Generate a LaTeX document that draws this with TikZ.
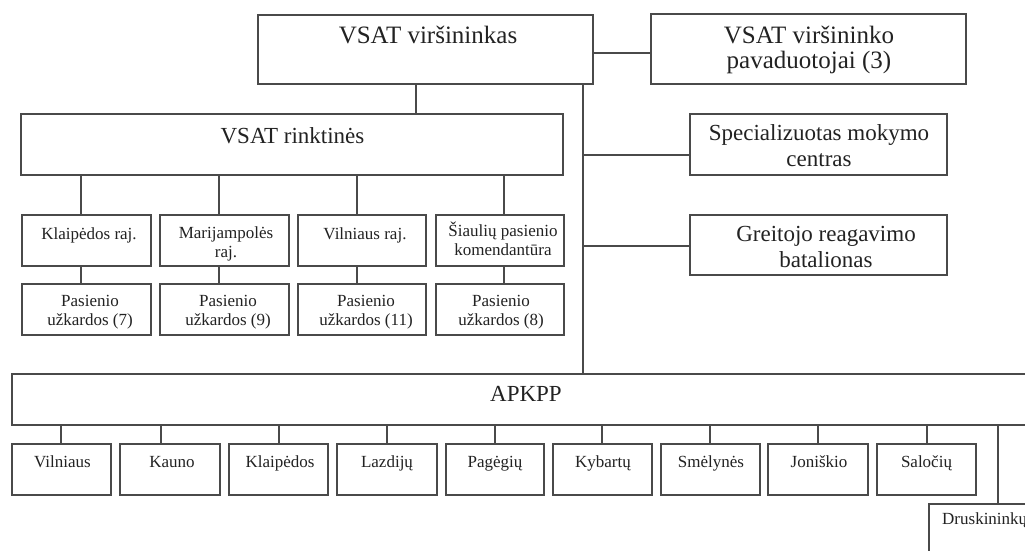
\documentclass[tikz,border=0pt]{standalone}
\usepackage{fontspec}
\setmainfont{Liberation Serif}
\definecolor{linec}{HTML}{4A4A4A}
\definecolor{txtc}{HTML}{222222}
\begin{document}
\begin{tikzpicture}[x=1pt,y=-1pt,
  bx/.style={draw=linec, line width=1.1pt, inner sep=0pt, fill=white},
  ln/.style={draw=linec, line width=1.1pt},
  hugetxt/.style={font=\fontsize{25}{25}\selectfont, text=txtc, align=center, inner sep=0pt, anchor=base},
  bigtxt/.style={font=\fontsize{23}{26}\selectfont, text=txtc, align=center, inner sep=0pt, anchor=base},
  smtxt/.style={font=\fontsize{17}{19}\selectfont, text=txtc, align=center, inner sep=0pt, anchor=base},
]
\useasboundingbox (0,0) rectangle (1025,550);
\clip (0,0) rectangle (1025,550);
\fill[white] (0,0) rectangle (1025,550);

% top level
\node[bx, minimum width=335pt, minimum height=69pt] (top) at (425.5,49.5) {};
\node[hugetxt] (topT) at (428,43) {VSAT viršininkas};
\node[bx, minimum width=315pt, minimum height=70pt] (dep) at (808.5,49) {};
\node[hugetxt] (depT) at (809,68) {VSAT viršininko\\pavaduotojai (3)};

\node[bx, minimum width=542pt, minimum height=61pt] (rink) at (292,144.5) {};
\node[bigtxt] (rinkT) at (292.5,143) {VSAT rinktinės};

\node[bx, minimum width=257pt, minimum height=61pt] (spec) at (818.5,144.5) {};
\node[bigtxt] (specT) at (819,166) {Specializuotas mokymo\\centras};

\node[bx, minimum width=257pt, minimum height=60pt] (greit) at (818.5,245) {};
\node[bigtxt] (greitT) at (826,267) {Greitojo reagavimo\\batalionas};

% rinktines row 1
\node[bx, minimum width=129pt, minimum height=51pt] (r1) at (86.5,240.5) {};
\node[bx, minimum width=129pt, minimum height=51pt] (r2) at (224.5,240.5) {};
\node[bx, minimum width=128pt, minimum height=51pt] (r3) at (362,240.5) {};
\node[bx, minimum width=128pt, minimum height=51pt] (r4) at (500,240.5) {};
\node[smtxt] (r1T) at (89,239) {Klaipėdos raj.};
\node[smtxt] (r2T) at (226,257) {Marijampolės\\raj.};
\node[smtxt] (r3T) at (365,239) {Vilniaus raj.};
\node[smtxt] (r4T) at (503,255) {Šiaulių pasienio\\komendantūra};

% row 2
\node[bx, minimum width=129pt, minimum height=51pt] (u1) at (86.5,309.5) {};
\node[bx, minimum width=129pt, minimum height=51pt] (u2) at (224.5,309.5) {};
\node[bx, minimum width=128pt, minimum height=51pt] (u3) at (362,309.5) {};
\node[bx, minimum width=128pt, minimum height=51pt] (u4) at (500,309.5) {};
\node[smtxt] (u1T) at (90,325) {Pasienio\\užkardos (7)};
\node[smtxt] (u2T) at (228,325) {Pasienio\\užkardos (9)};
\node[smtxt] (u3T) at (366,325) {Pasienio\\užkardos (11)};
\node[smtxt] (u4T) at (501,325) {Pasienio\\užkardos (8)};

% APKPP
\node[bx, minimum width=1048pt, minimum height=51pt] (apk) at (536,399.5) {};
\node[bigtxt] (apkT) at (526,401) {APKPP};

% row 3
\node[bx, minimum width=99pt, minimum height=51pt] (a1) at (61.5,469.5) {};
\node[bx, minimum width=100pt, minimum height=51pt] (a2) at (170,469.5) {};
\node[bx, minimum width=99pt, minimum height=51pt] (a3) at (278.5,469.5) {};
\node[bx, minimum width=100pt, minimum height=51pt] (a4) at (387,469.5) {};
\node[bx, minimum width=98pt, minimum height=51pt] (a5) at (495,469.5) {};
\node[bx, minimum width=99pt, minimum height=51pt] (a6) at (602.5,469.5) {};
\node[bx, minimum width=99pt, minimum height=51pt] (a7) at (710.5,469.5) {};
\node[bx, minimum width=100pt, minimum height=51pt] (a8) at (818,469.5) {};
\node[bx, minimum width=99pt, minimum height=51pt] (a9) at (926.5,469.5) {};
\node[bx, minimum width=171pt, minimum height=60pt] (a10) at (1014.5,534) {};
\node[smtxt] (a1T) at (62.5,467) {Vilniaus};
\node[smtxt] (a2T) at (172,467) {Kauno};
\node[smtxt] (a3T) at (280,467) {Klaipėdos};
\node[smtxt] (a4T) at (387,467) {Lazdijų};
\node[smtxt] (a5T) at (495,467) {Pagėgių};
\node[smtxt] (a6T) at (603,467) {Kybartų};
\node[smtxt] (a7T) at (711,467) {Smėlynės};
\node[smtxt] (a8T) at (819,467) {Joniškio};
\node[smtxt] (a9T) at (926.5,467) {Saločių};
\node[smtxt, anchor=base west] (a10T) at (942,524) {Druskininkų};

% connectors
\draw[ln] (top.east |- 0,53) -- (dep.west |- 0,53);
\draw[ln] (top.south -| 416,0) -- (rink.north -| 416,0);
\draw[ln] (top.south -| 583,0) -- (apk.north -| 583,0);
\draw[ln] (583,155) -- (spec.west |- 0,155);
\draw[ln] (583,246) -- (greit.west |- 0,246);

\foreach \b/\c/\dx in {r1/u1/-5.5, r2/u2/-5.5, r3/u3/-5, r4/u4/4}{
  \draw[ln] ([xshift=\dx pt]\b.north |- rink.south) -- ([xshift=\dx pt]\b.north);
  \draw[ln] ([xshift=\dx pt]\b.south) -- ([xshift=\dx pt]\c.north);
}
\foreach \b/\dx in {a1/-0.5, a2/-9, a3/0.5, a4/0, a5/0, a6/-0.5, a7/-0.5, a8/0, a9/0.5}{
  \draw[ln] ([xshift=\dx pt]\b.north |- apk.south) -- ([xshift=\dx pt]\b.north);
}
\draw[ln] (apk.south -| 998,0) -- (a10.north -| 998,0);
\end{tikzpicture}
\end{document}
